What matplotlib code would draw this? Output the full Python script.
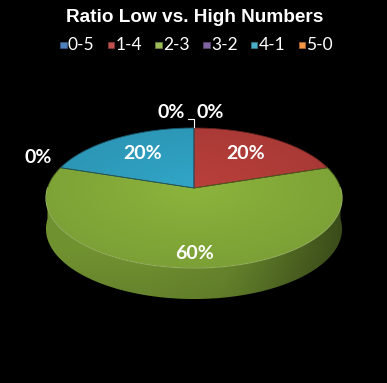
import numpy as np
import matplotlib.pyplot as plt
from matplotlib.patches import Polygon, Rectangle
from matplotlib.colors import to_rgb

# data
categories = ['0-5', '1-4', '2-3', '3-2', '4-1', '5-0']
values = [0, 20, 60, 0, 20, 0]
legend_colors = ['#4F81BD', '#C0504D', '#9BBB59', '#8064A2', '#4BACC6', '#F79646']
face_colors = ['#4573AE', '#B33D39', '#86AD3A', '#71569A', '#2F9FC0', '#E5822F']

W, H = 387, 383
fig = plt.figure(figsize=(W / 100, H / 100), dpi=100, facecolor='black')
ax = fig.add_axes([0, 0, 1, 1])
ax.set_xlim(0, W)
ax.set_ylim(H, 0)
ax.axis('off')
ax.set_facecolor('black')

# pie geometry (pixel space, slight perspective)
cx, cy, rx, ry, k, depth = 194, 188, 146.5, 68.6, 1 / 7, 31


def proj(t, r=1.0, dz=0.0):
    s = r * np.sin(t)
    c = r * np.cos(t)
    d = 1 + k * s
    return cx + rx * c / d, cy - ry * s / d + dz


def shade(col, f):
    return tuple(min(1, v * f) for v in to_rgb(col))


total = sum(values)
starts, ends = [], []
acc = 0
for v in values:
    a0 = np.pi / 2 - 2 * np.pi * acc / total
    acc += v
    a1 = np.pi / 2 - 2 * np.pi * acc / total
    starts.append(a0)
    ends.append(a1)

# gradient helper for the side wall: darker to the right and at the bottom
gx = np.linspace(0, W, 400)
gy = np.linspace(0, H, 400)
GX, GY = np.meshgrid(gx, gy)
u = np.clip((GX - cx) / rx, -1, 1)
fx = 0.84 - 0.10 * np.clip(u + 0.3, 0, 1) - 0.30 * np.clip((u - 0.2) / 0.8, 0, 1) ** 1.2
fy = 1.0 - 0.10 * np.clip((GY - 250) / 50, 0, 1)
side_f = fx * fy

# side wall (front half only), one clipped gradient per wedge
for i, v in enumerate(values):
    if v == 0:
        continue
    lo, hi = ends[i], starts[i]
    for off in (-2 * np.pi, 0, 2 * np.pi):
        a, b = max(lo + off, -np.pi), min(hi + off, 0)
        if b <= a:
            continue
        tt = np.linspace(a, b, 200)
        xs, ys = proj(tt)
        pts = list(zip(xs, ys)) + list(zip(xs[::-1], ys[::-1] + depth))
        poly = Polygon(pts, closed=True, facecolor='none', edgecolor='none')
        ax.add_patch(poly)
        img = np.clip(np.array(to_rgb(face_colors[i]))[None, None, :] * side_f[:, :, None], 0, 1)
        im = ax.imshow(img, extent=(0, W, H, 0), interpolation='bilinear', zorder=1)
        im.set_clip_path(poly)

# top faces
top_f = 1.04 - 0.10 * np.clip(np.hypot((GX - cx) / rx, (GY - cy) / ry), 0, 1.2)
for i, v in enumerate(values):
    if v == 0:
        continue
    tt = np.linspace(starts[i], ends[i], 200)
    xs, ys = proj(tt)
    pts = [(cx, cy)] + list(zip(xs, ys))
    poly = Polygon(pts, closed=True, facecolor='none',
                   edgecolor=shade(face_colors[i], 0.55), lw=0.6, zorder=3)
    ax.add_patch(poly)
    img = np.clip(np.array(to_rgb(face_colors[i]))[None, None, :] * top_f[:, :, None], 0, 1)
    im = ax.imshow(img, extent=(0, W, H, 0), interpolation='bilinear', zorder=2)
    im.set_clip_path(poly)

# light rim on the front edge
xs, ys = proj(np.linspace(-np.pi, 0, 200))
ax.plot(xs, ys, color='#A6C56A', lw=0.8, alpha=0.8, zorder=4)

# labels
lab_font = dict(color='white', fontsize=14, fontweight='bold', family='Lato',
                ha='center', va='center', zorder=5)
top_zero = []
for i, v in enumerate(values):
    pct = f'{round(100 * v / total)}%'
    mid = (starts[i] + ends[i]) / 2
    if v == 0:
        if abs(np.sin(mid) - 1) < 1e-6:
            top_zero.append(i)
            continue
        x, y = proj(mid, 1.16)
        ax.text(x - 2, y - 7, pct, **lab_font)
    elif v == max(values):
        x, y = proj(mid, 0.82)
        ax.text(x, y + 2, pct, **lab_font)
    else:
        x, y = proj(mid, 0.64)
        ax.text(x, y - 1, pct, **lab_font)

# the two 0% labels sitting at 12 o'clock
if top_zero:
    xt, yt = proj(np.pi / 2, 1.0)
    for n, i in enumerate(top_zero):
        dx = -23 if n == 0 else 16
        ax.text(xt + dx, yt - 15, '0%', **lab_font)
    ax.plot([xt - 6, xt, xt], [yt - 9, yt - 9, yt - 1], color='white', lw=0.8, zorder=5)

# title
ax.text(W / 2 + 1, 18, 'Ratio Low vs. High Numbers', color='white', fontsize=13.7,
        fontweight='bold', family='Liberation Sans', ha='center', va='center')

# legend
lx0, step, ly = 60, 47.7, 45
for i, (name, col) in enumerate(zip(categories, legend_colors)):
    x = lx0 + i * step
    ax.add_patch(Rectangle((x, ly - 3.5), 6.5, 6.5, facecolor=col,
                           edgecolor=shade(col, 0.7), lw=0.5))
    ax.text(x + 8, ly, name, color='white', fontsize=12.5, family='Lato',
            ha='left', va='center')

fig.savefig('out.png', dpi=100, facecolor='black')
